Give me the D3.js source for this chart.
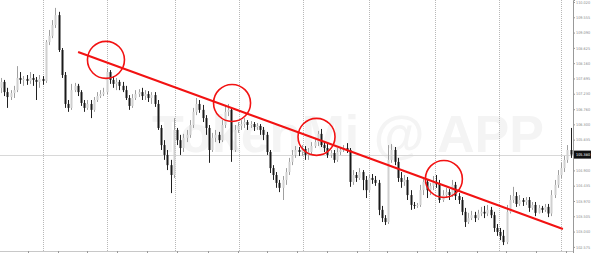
<!DOCTYPE html>
<html><head><meta charset="utf-8">
<script src="https://cdn.jsdelivr.net/npm/d3@7"></script>
<style>html,body{margin:0;padding:0;background:#fff;overflow:hidden}</style>
</head><body><svg id="c" width="591" height="253"></svg>
<script>
const opens = [107.41,107.59,107.28,107.13,107.25,107.34,107.71,107.65,107.68,107.62,
107.71,107.65,107.59,107.68,107.62,108.80,108.99,109.32,109.62,108.56,
107.80,106.92,106.80,107.34,107.47,107.28,106.95,106.80,106.92,106.74,
107.04,107.16,107.22,107.28,107.89,107.65,107.53,107.59,107.47,107.34,
107.10,106.86,107.10,107.22,107.28,107.16,107.22,107.10,107.19,106.92,
106.19,105.67,105.37,105.06,104.76,106.13,105.82,105.58,105.89,105.98,
106.28,106.68,106.92,106.74,106.49,106.19,105.52,105.89,105.98,105.82,
106.28,106.68,106.74,105.52,106.13,106.25,106.31,106.37,106.28,106.31,
106.22,106.25,106.13,105.98,105.46,104.97,104.76,104.52,104.37,104.61,
104.85,105.16,105.37,105.52,105.46,105.55,105.37,105.46,105.64,105.76,
106.01,105.67,105.58,105.37,105.43,105.22,105.46,105.52,105.58,105.52,
104.55,104.76,104.67,104.85,104.61,104.30,104.67,104.61,104.52,103.70,
103.45,103.33,105.22,105.52,105.16,104.67,104.55,104.61,104.15,103.85,
103.82,103.85,104.30,104.55,104.30,104.43,104.55,104.49,104.00,104.15,
104.24,104.15,104.46,104.12,104.00,103.64,103.33,103.45,103.54,103.45,
103.59,103.64,103.59,103.70,103.54,103.15,103.03,102.91,102.72,103.64,
104.00,104.12,103.88,104.00,103.94,104.00,103.76,103.85,103.61,103.76,
103.70,103.79,103.59,104.15,104.46,104.76,104.97,105.22,105.52];
const highs = [107.71,107.65,107.41,107.34,107.47,108.07,107.89,107.77,107.80,107.89,
107.83,107.74,107.80,107.77,108.86,109.17,109.47,109.84,109.72,108.62,
107.89,107.04,107.53,107.56,107.53,107.34,107.04,107.04,107.04,107.13,
107.28,107.34,107.41,108.01,107.95,107.77,107.71,107.65,107.59,107.47,
107.19,107.22,107.34,107.37,107.41,107.34,107.31,107.28,107.28,107.04,
106.28,105.82,105.52,105.22,106.49,106.19,105.98,106.01,106.13,106.43,
106.80,107.10,107.04,106.89,106.58,106.28,106.04,106.13,106.07,106.43,
106.89,106.92,106.80,106.28,106.37,106.43,106.49,106.43,106.40,106.37,
106.34,106.31,106.22,106.07,105.52,105.06,104.85,104.61,104.73,104.97,
105.28,105.52,105.64,105.61,105.67,105.64,105.58,105.76,105.89,106.10,
106.16,105.76,105.70,105.52,105.52,105.58,105.61,105.67,105.73,105.58,
104.91,104.85,104.97,104.91,104.73,104.76,104.79,104.73,104.61,103.82,
103.54,105.67,105.70,105.61,105.28,104.85,104.76,104.70,104.30,103.94,
103.91,104.46,104.70,104.61,104.52,104.73,104.76,104.61,104.30,104.37,
104.33,104.61,104.55,104.21,104.09,103.76,103.61,103.67,103.64,103.70,
103.79,103.82,103.85,103.79,103.64,103.27,103.15,103.09,103.85,104.15,
104.40,104.24,104.15,104.06,104.09,104.09,103.94,103.94,103.85,103.82,
103.88,103.88,104.30,104.61,104.91,105.13,105.34,105.67,106.19];
const lows = [107.25,107.16,106.80,107.04,107.10,107.28,107.53,107.47,107.50,107.53,
107.47,107.04,107.41,107.50,107.56,108.71,108.92,109.23,108.50,107.71,
106.80,106.68,106.74,107.28,107.16,106.86,106.68,106.74,106.49,106.68,
106.98,107.10,107.16,107.22,107.53,107.41,107.34,107.34,107.28,107.04,
106.74,106.80,107.04,107.13,107.04,107.04,106.98,106.92,106.83,106.13,
105.52,105.22,104.91,104.21,104.67,105.67,105.37,105.46,105.76,105.89,
106.19,106.58,106.65,106.37,105.98,105.13,105.46,105.76,105.73,105.76,
106.19,106.55,105.16,105.46,106.04,106.13,106.19,106.13,106.19,106.10,
106.13,105.98,105.82,105.37,104.82,104.61,104.37,104.24,104.00,104.46,
104.76,105.06,105.28,105.34,105.34,105.22,105.22,105.37,105.58,105.64,
105.61,105.46,105.28,105.28,105.13,105.16,105.37,105.46,105.43,104.40,
104.46,104.55,104.61,104.30,104.06,104.24,104.49,104.43,103.54,103.33,
103.24,103.27,105.13,105.06,104.55,104.37,104.43,104.00,103.70,103.73,
103.76,103.79,104.15,104.06,104.15,104.30,104.37,103.91,103.94,104.06,
104.00,104.09,104.00,103.88,103.54,103.18,103.27,103.39,103.33,103.39,
103.51,103.45,103.51,103.45,103.03,102.91,102.78,102.63,102.66,103.59,
103.91,103.79,103.82,103.82,103.85,103.64,103.70,103.51,103.59,103.61,
103.64,103.48,103.51,104.06,104.37,104.67,104.85,105.13,105.28];
const closes = [107.59,107.28,107.13,107.25,107.34,107.71,107.65,107.68,107.62,107.71,
107.65,107.59,107.68,107.62,108.80,108.99,109.32,109.62,108.56,107.80,
106.92,106.80,107.34,107.47,107.28,106.95,106.80,106.92,106.74,107.04,
107.16,107.22,107.28,107.89,107.65,107.53,107.59,107.47,107.34,107.10,
106.86,107.10,107.22,107.28,107.16,107.22,107.10,107.19,106.92,106.19,
105.67,105.37,105.06,104.76,106.13,105.82,105.58,105.89,105.98,106.28,
106.68,106.92,106.74,106.49,106.19,105.52,105.89,105.98,105.82,106.28,
106.68,106.74,105.52,106.13,106.25,106.31,106.37,106.28,106.31,106.22,
106.25,106.13,105.98,105.46,104.97,104.76,104.52,104.37,104.61,104.85,
105.16,105.37,105.52,105.46,105.55,105.37,105.46,105.64,105.76,106.01,
105.67,105.58,105.37,105.43,105.22,105.46,105.52,105.58,105.52,104.55,
104.76,104.67,104.85,104.61,104.30,104.67,104.61,104.52,103.70,103.45,
103.33,105.22,105.52,105.16,104.67,104.55,104.61,104.15,103.85,103.82,
103.85,104.30,104.55,104.30,104.43,104.55,104.49,104.00,104.15,104.24,
104.15,104.46,104.12,104.00,103.64,103.33,103.45,103.54,103.45,103.59,
103.64,103.59,103.70,103.54,103.15,103.03,102.91,102.72,103.64,104.00,
104.12,103.88,104.00,103.94,104.00,103.76,103.85,103.61,103.76,103.70,
103.79,103.59,104.15,104.46,104.76,104.97,105.22,105.52,105.38];

const priceTicks = ["102.575","103.040","103.505","103.970","104.435","104.900","105.365","105.835","106.300","106.760","107.230","107.695","108.160","108.625","109.090","109.555","110.020"];
const gridBars = [13, 33, 54.5, 74.5, 94.5, 115, 135.5, 155.5, 175];
const timeTickBars = [8.4, 17.8, 26.9, 36.3, 45.6, 55, 64.7, 74, 83.1, 92.5, 101.9, 111.3, 120.6, 130, 139.4, 148.8, 157.8, 167.2, 176.6];
const trendLine = [[24.1, 108.50], [175.6, 103.12]];
const circleBars = [32.8, 72.2, 98.6, 138.4];
const circlePrices = [108.26, 106.95, 105.92, 104.64];
const watermark = "TokenMi @ APP";

const W = 591, H = 253, plotR = 573;
const svg = d3.select("#c");
const n = closes.length;
const x = d3.scaleLinear().domain([0, n - 1]).range([1, 570.6]);
const y = d3.scaleLinear().domain([102.389, 110.08]).range([H, 0]);

// watermark
svg.append("text").attr("x", 152).attr("y", 152)
  .attr("font-family", "Liberation Sans, Arial, sans-serif").attr("font-weight", "bold")
  .attr("font-size", 52).attr("fill", "#f4f4f4")
  .attr("textLength", 392).attr("lengthAdjust", "spacingAndGlyphs").text(watermark);

// vertical grid
svg.append("g").selectAll("line").data(gridBars).join("line")
  .attr("x1", d => Math.round(x(d)) + 0.5).attr("x2", d => Math.round(x(d)) + 0.5)
  .attr("y1", 0).attr("y2", 251)
  .attr("stroke", "#b8b8b8").attr("stroke-dasharray", "1,1");

// current price line
const last = closes[n - 1];
svg.append("line").attr("x1", 0).attr("x2", plotR)
  .attr("y1", Math.round(y(last)) + 0.5).attr("y2", Math.round(y(last)) + 0.5)
  .attr("stroke", "#d8d8d8");

// candles
const data = closes.map((c, i) => ({i, o: opens[i], h: highs[i], l: lows[i], c}));
const g = svg.append("g");
g.selectAll("line.w").data(data).join("line").attr("class", "w")
  .attr("x1", d => Math.round(x(d.i)) + 0.5).attr("x2", d => Math.round(x(d.i)) + 0.5)
  .attr("y1", d => y(d.h)).attr("y2", d => y(d.l))
  .attr("stroke", d => d.c >= d.o ? "#a0a0a0" : "#202020").attr("stroke-width", 1);
g.selectAll("rect").data(data).join("rect")
  .attr("x", d => Math.round(x(d.i)) - 0.5).attr("width", 2)
  .attr("y", d => y(Math.max(d.o, d.c)))
  .attr("height", d => Math.max(1, Math.abs(y(d.o) - y(d.c))))
  .attr("fill", d => d.c >= d.o ? "#d0d0d0" : "#1a1a1a");

// trend line
svg.append("line")
  .attr("x1", x(trendLine[0][0])).attr("y1", y(trendLine[0][1]))
  .attr("x2", x(trendLine[1][0])).attr("y2", y(trendLine[1][1]))
  .attr("stroke", "#f21212").attr("stroke-width", 2);

// circles
svg.append("g").selectAll("circle").data(circleBars).join("circle")
  .attr("cx", d => x(d)).attr("cy", (d, k) => y(circlePrices[k])).attr("r", 18.5)
  .attr("fill", "none").attr("stroke", "#f21212").attr("stroke-width", 1.6);

// bottom frame
svg.append("line").attr("x1", 0).attr("x2", plotR).attr("y1", 251.5).attr("y2", 251.5).attr("stroke", "#c8c8c8");
svg.append("g").selectAll("line").data(timeTickBars).join("line")
  .attr("x1", d => Math.round(x(d)) + 0.5).attr("x2", d => Math.round(x(d)) + 0.5)
  .attr("y1", 251).attr("y2", 253).attr("stroke", "#999");

// right axis
const axisG = svg.append("g").attr("transform", `translate(${plotR},0)`);
axisG.call(d3.axisRight(y).tickValues(priceTicks.map(Number)).tickSize(2).tickFormat((d, k) => priceTicks[k]));
axisG.select(".domain").attr("stroke", "#999");
axisG.selectAll(".tick line").attr("stroke", "#999");
axisG.selectAll(".tick text").attr("fill", "#8a8a8a").attr("font-size", 3.8)
  .attr("font-family", "DejaVu Sans Condensed, DejaVu Sans, sans-serif").attr("x", 3);

// current price box
const yc = y(last);
svg.append("rect").attr("x", plotR + 1).attr("y", yc - 4).attr("width", W - plotR).attr("height", 8).attr("fill", "#111");
svg.append("text").attr("x", plotR + 3).attr("y", yc + 1.4).attr("fill", "#fff")
  .attr("font-size", 3.8).attr("font-family", "DejaVu Sans Condensed, DejaVu Sans, sans-serif")
  .text(last.toFixed(3));
</script></body></html>
